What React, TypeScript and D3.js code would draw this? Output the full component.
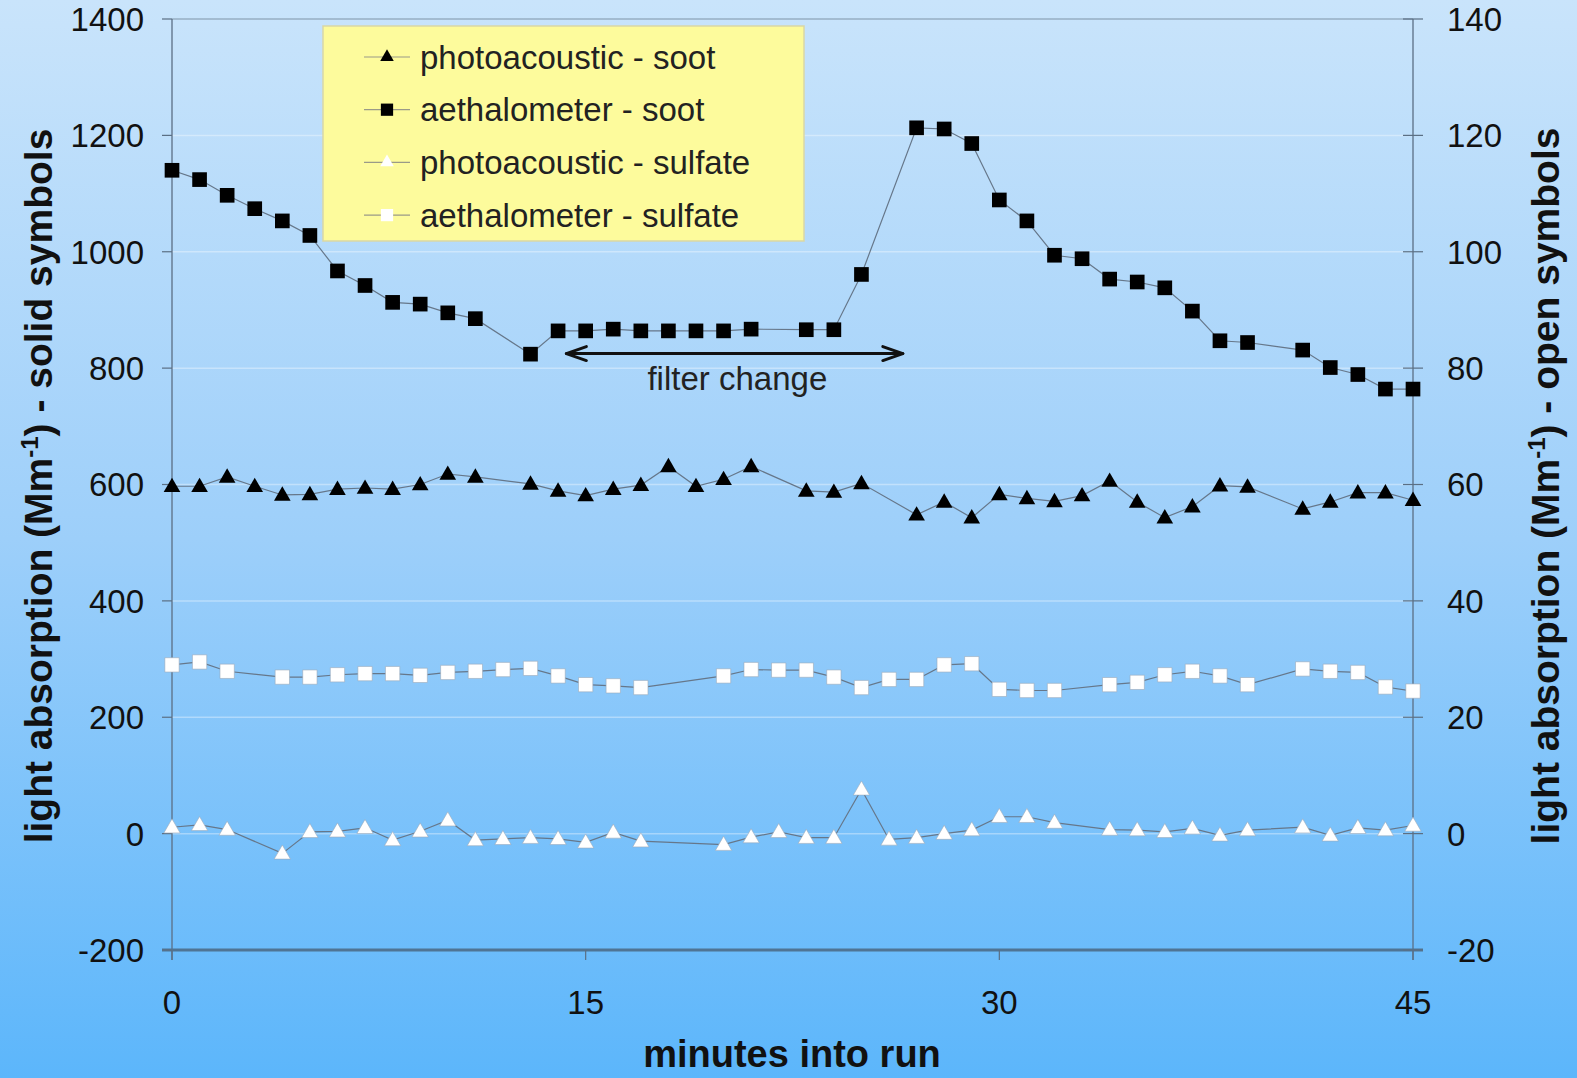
import React from "react";
import * as d3 from "d3";

// minutes at which each instrument reported
const sootMinutes = [0, 1, 2, 3, 4, 5, 6, 7, 8, 9, 10, 11, 13, 14, 15, 16, 17, 18, 19, 20, 21, 23, 24, 25, 27, 28, 29, 30, 31, 32, 33, 34, 35, 36, 37, 38, 39, 41, 42, 43, 44, 45];
const sulfateMinutes = [0, 1, 2, 4, 5, 6, 7, 8, 9, 10, 11, 12, 13, 14, 15, 16, 17, 20, 21, 22, 23, 24, 25, 26, 27, 28, 29, 30, 31, 32, 34, 35, 36, 37, 38, 39, 41, 42, 43, 44, 45];

// left axis (solid symbols), Mm-1
const paSoot = [597, 597, 613, 597, 582, 583, 592, 594, 592, 600, 618, 613, 601, 589, 581, 592, 599, 631, 597, 609, 631, 589, 587, 602, 548, 570, 543, 583, 576, 571, 581, 606, 570, 543, 562, 598, 596, 558, 570, 586, 586, 573];
const aeSoot = [1140, 1124, 1097, 1074, 1053, 1028, 967, 942, 913, 910, 895, 885, 824, 864, 864, 867, 864, 864, 864, 864, 867, 866, 866, 961, 1213, 1211, 1186, 1089, 1053, 994, 988, 953, 948, 938, 898, 847, 844, 831, 801, 789, 764, 764];

// right axis (open symbols), Mm-1
const paSulfate = [1.1, 1.5, 0.7, -3.4, 0.3, 0.4, 1.0, -1.1, 0.4, 2.3, -1.1, -0.9, -0.7, -0.9, -1.5, 0.2, -1.3, -1.9, -0.6, 0.3, -0.7, -0.7, 7.6, -1.0, -0.7, 0, 0.6, 2.9, 2.9, 1.9, 0.7, 0.6, 0.3, 0.9, -0.3, 0.6, 1.1, -0.3, 1.0, 0.6, 1.4];
const aeSulfate = [29.0, 29.5, 27.9, 26.9, 26.9, 27.3, 27.5, 27.5, 27.2, 27.7, 27.9, 28.2, 28.4, 27.1, 25.6, 25.4, 25.1, 27.1, 28.2, 28.1, 28.1, 26.9, 25.1, 26.5, 26.5, 29.0, 29.2, 24.8, 24.6, 24.6, 25.6, 26.0, 27.3, 27.9, 27.1, 25.6, 28.3, 27.9, 27.7, 25.2, 24.5];

const xTicks = [0, 15, 30, 45];
const leftTicks = [-200, 0, 200, 400, 600, 800, 1000, 1200, 1400];
const rightTicks = [-20, 0, 20, 40, 60, 80, 100, 120, 140];

const legendLabels = ["photoacoustic - soot", "aethalometer - soot", "photoacoustic - sulfate", "aethalometer - sulfate"];

// filter change annotation: [start minute, end minute], level on left axis
const filterSpan = [14.3, 26.5];
const filterLevel = 825;

const W = 1577;
const H = 1078;
const FONT = "'Liberation Sans', Arial, sans-serif";

export default function App() {
  const left = 172, right = 1413, top = 19, bottom = 950;

  const x = d3.scaleLinear().domain([0, 45]).range([left, right]);
  const yL = d3.scaleLinear().domain([-200, 1400]).range([bottom, top]);
  const yR = d3.scaleLinear().domain([-20, 140]).range([bottom, top]);

  const series = [
    { mins: sootMinutes, vals: paSoot, y: yL, shape: d3.symbolTriangle, size: 120, fill: "#000" },
    { mins: sootMinutes, vals: aeSoot, y: yL, shape: d3.symbolSquare, size: 215, fill: "#000" },
    { mins: sulfateMinutes, vals: paSulfate, y: yR, shape: d3.symbolTriangle, size: 115, fill: "#fff" },
    { mins: sulfateMinutes, vals: aeSulfate, y: yR, shape: d3.symbolSquare, size: 205, fill: "#fff" },
  ];

  const arrowY = yL(filterLevel);
  const ax0 = x(filterSpan[0]);
  const ax1 = x(filterSpan[1]);

  return (
    <svg width={W} height={H} style={{ position: "absolute", left: 0, top: 0, display: "block" }} fontFamily={FONT}>
      <defs>
        <linearGradient id="bg" x1="0" y1="0" x2="0" y2="1">
          <stop offset="0" stopColor="#c9e4fb" />
          <stop offset="0.5" stopColor="#9dcffa" />
          <stop offset="1" stopColor="#5cb6fb" />
        </linearGradient>
      </defs>
      <rect width={W} height={H} fill="url(#bg)" />

      {/* faint gridlines */}
      {leftTicks.slice(1, -1).map((t) => (
        <line key={t} x1={left} x2={right} y1={yL(t)} y2={yL(t)} stroke="#ffffff" strokeOpacity={0.35} strokeWidth={1.5} />
      ))}
      <line x1={left} x2={right} y1={top} y2={top} stroke="#7f93a8" strokeWidth={1.2} />

      {/* axes */}
      <line x1={left} x2={left} y1={top} y2={bottom + 10} stroke="#5b6f84" strokeWidth={1.3} />
      <line x1={right} x2={right} y1={top} y2={bottom + 10} stroke="#5b6f84" strokeWidth={1.3} />
      <line x1={left - 10} x2={right + 10} y1={bottom} y2={bottom} stroke="#4f7494" strokeWidth={3} />

      {leftTicks.map((t) => (
        <g key={t}>
          <line x1={left - 10} x2={left} y1={yL(t)} y2={yL(t)} stroke="#5b6f84" strokeWidth={1.2} />
          <text x={left - 28} y={yL(t)} dy="0.36em" textAnchor="end" fontSize={33} fill="#111">{t}</text>
        </g>
      ))}
      {rightTicks.map((t) => (
        <g key={t}>
          <line x1={right - 10} x2={right + 10} y1={yR(t)} y2={yR(t)} stroke="#5b6f84" strokeWidth={1.2} />
          <text x={right + 34} y={yR(t)} dy="0.36em" textAnchor="start" fontSize={33} fill="#111">{t}</text>
        </g>
      ))}
      {xTicks.map((t) => (
        <g key={t}>
          <line x1={x(t)} x2={x(t)} y1={bottom} y2={bottom + 10} stroke="#5b6f84" strokeWidth={1.2} />
          <text x={x(t)} y={1014} textAnchor="middle" fontSize={33} fill="#111">{t}</text>
        </g>
      ))}

      {/* series */}
      {series.map((s, i) => {
        const pts = s.mins.map((m, j) => [x(m), s.y(s.vals[j])] as [number, number]);
        const sym = d3.symbol(s.shape, s.size)();
        return (
          <g key={i}>
            <path d={d3.line()(pts) || ""} fill="none" stroke="#66778a" strokeWidth={1.2} />
            {pts.map((p, j) => (
              <path key={j} d={sym || ""} transform={`translate(${p[0]},${p[1] + (s.shape === d3.symbolTriangle ? 1 : 0)})`} fill={s.fill} stroke={s.fill === "#fff" ? "#9aaabb" : "none"} strokeWidth={0.6} />
            ))}
          </g>
        );
      })}

      {/* filter change annotation */}
      <g stroke="#111" strokeWidth={3} fill="none" strokeLinecap="round" strokeLinejoin="round">
        <line x1={ax0} x2={ax1} y1={arrowY} y2={arrowY} />
        <polyline points={`${ax0 + 20},${arrowY - 7} ${ax0},${arrowY} ${ax0 + 20},${arrowY + 7}`} />
        <polyline points={`${ax1 - 20},${arrowY - 7} ${ax1},${arrowY} ${ax1 - 20},${arrowY + 7}`} />
      </g>
      <text x={x(20.5)} y={yL(763)} textAnchor="middle" fontSize={33} fill="#222">filter change</text>

      {/* legend */}
      <g>
        <rect x={323} y={26} width={481} height={215} fill="#fdfb9c" stroke="#d9d7a6" strokeWidth={1.5} />
        {legendLabels.map((lab, i) => {
          const cy = 57 + i * 52.7;
          const s = series[i];
          const sym = d3.symbol(s.shape, s.shape === d3.symbolSquare ? 150 : 80)();
          return (
            <g key={lab}>
              <line x1={364} x2={410} y1={cy} y2={cy} stroke="#9a9a88" strokeWidth={1.2} />
              <path d={sym || ""} transform={`translate(387,${cy})`} fill={s.fill} />
              <text x={420} y={cy} dy="0.35em" fontSize={33} fill="#222">{lab}</text>
            </g>
          );
        })}
      </g>

      {/* axis titles */}
      <text transform="translate(52,486) rotate(-90)" textAnchor="middle" fontSize={39} fontWeight="bold" fill="#111">
        light  absorption (Mm<tspan dy="-14" fontSize={24}>-1</tspan><tspan dy="14">) - solid symbols</tspan>
      </text>
      <text transform="translate(1559,486) rotate(-90)" textAnchor="middle" fontSize={39} fontWeight="bold" fill="#111">
        light  absorption (Mm<tspan dy="-14" fontSize={24}>-1</tspan><tspan dy="14">) - open symbols</tspan>
      </text>
      <text x={792} y={1067} textAnchor="middle" fontSize={38} fontWeight="bold" fill="#111">minutes into run</text>
    </svg>
  );
}
